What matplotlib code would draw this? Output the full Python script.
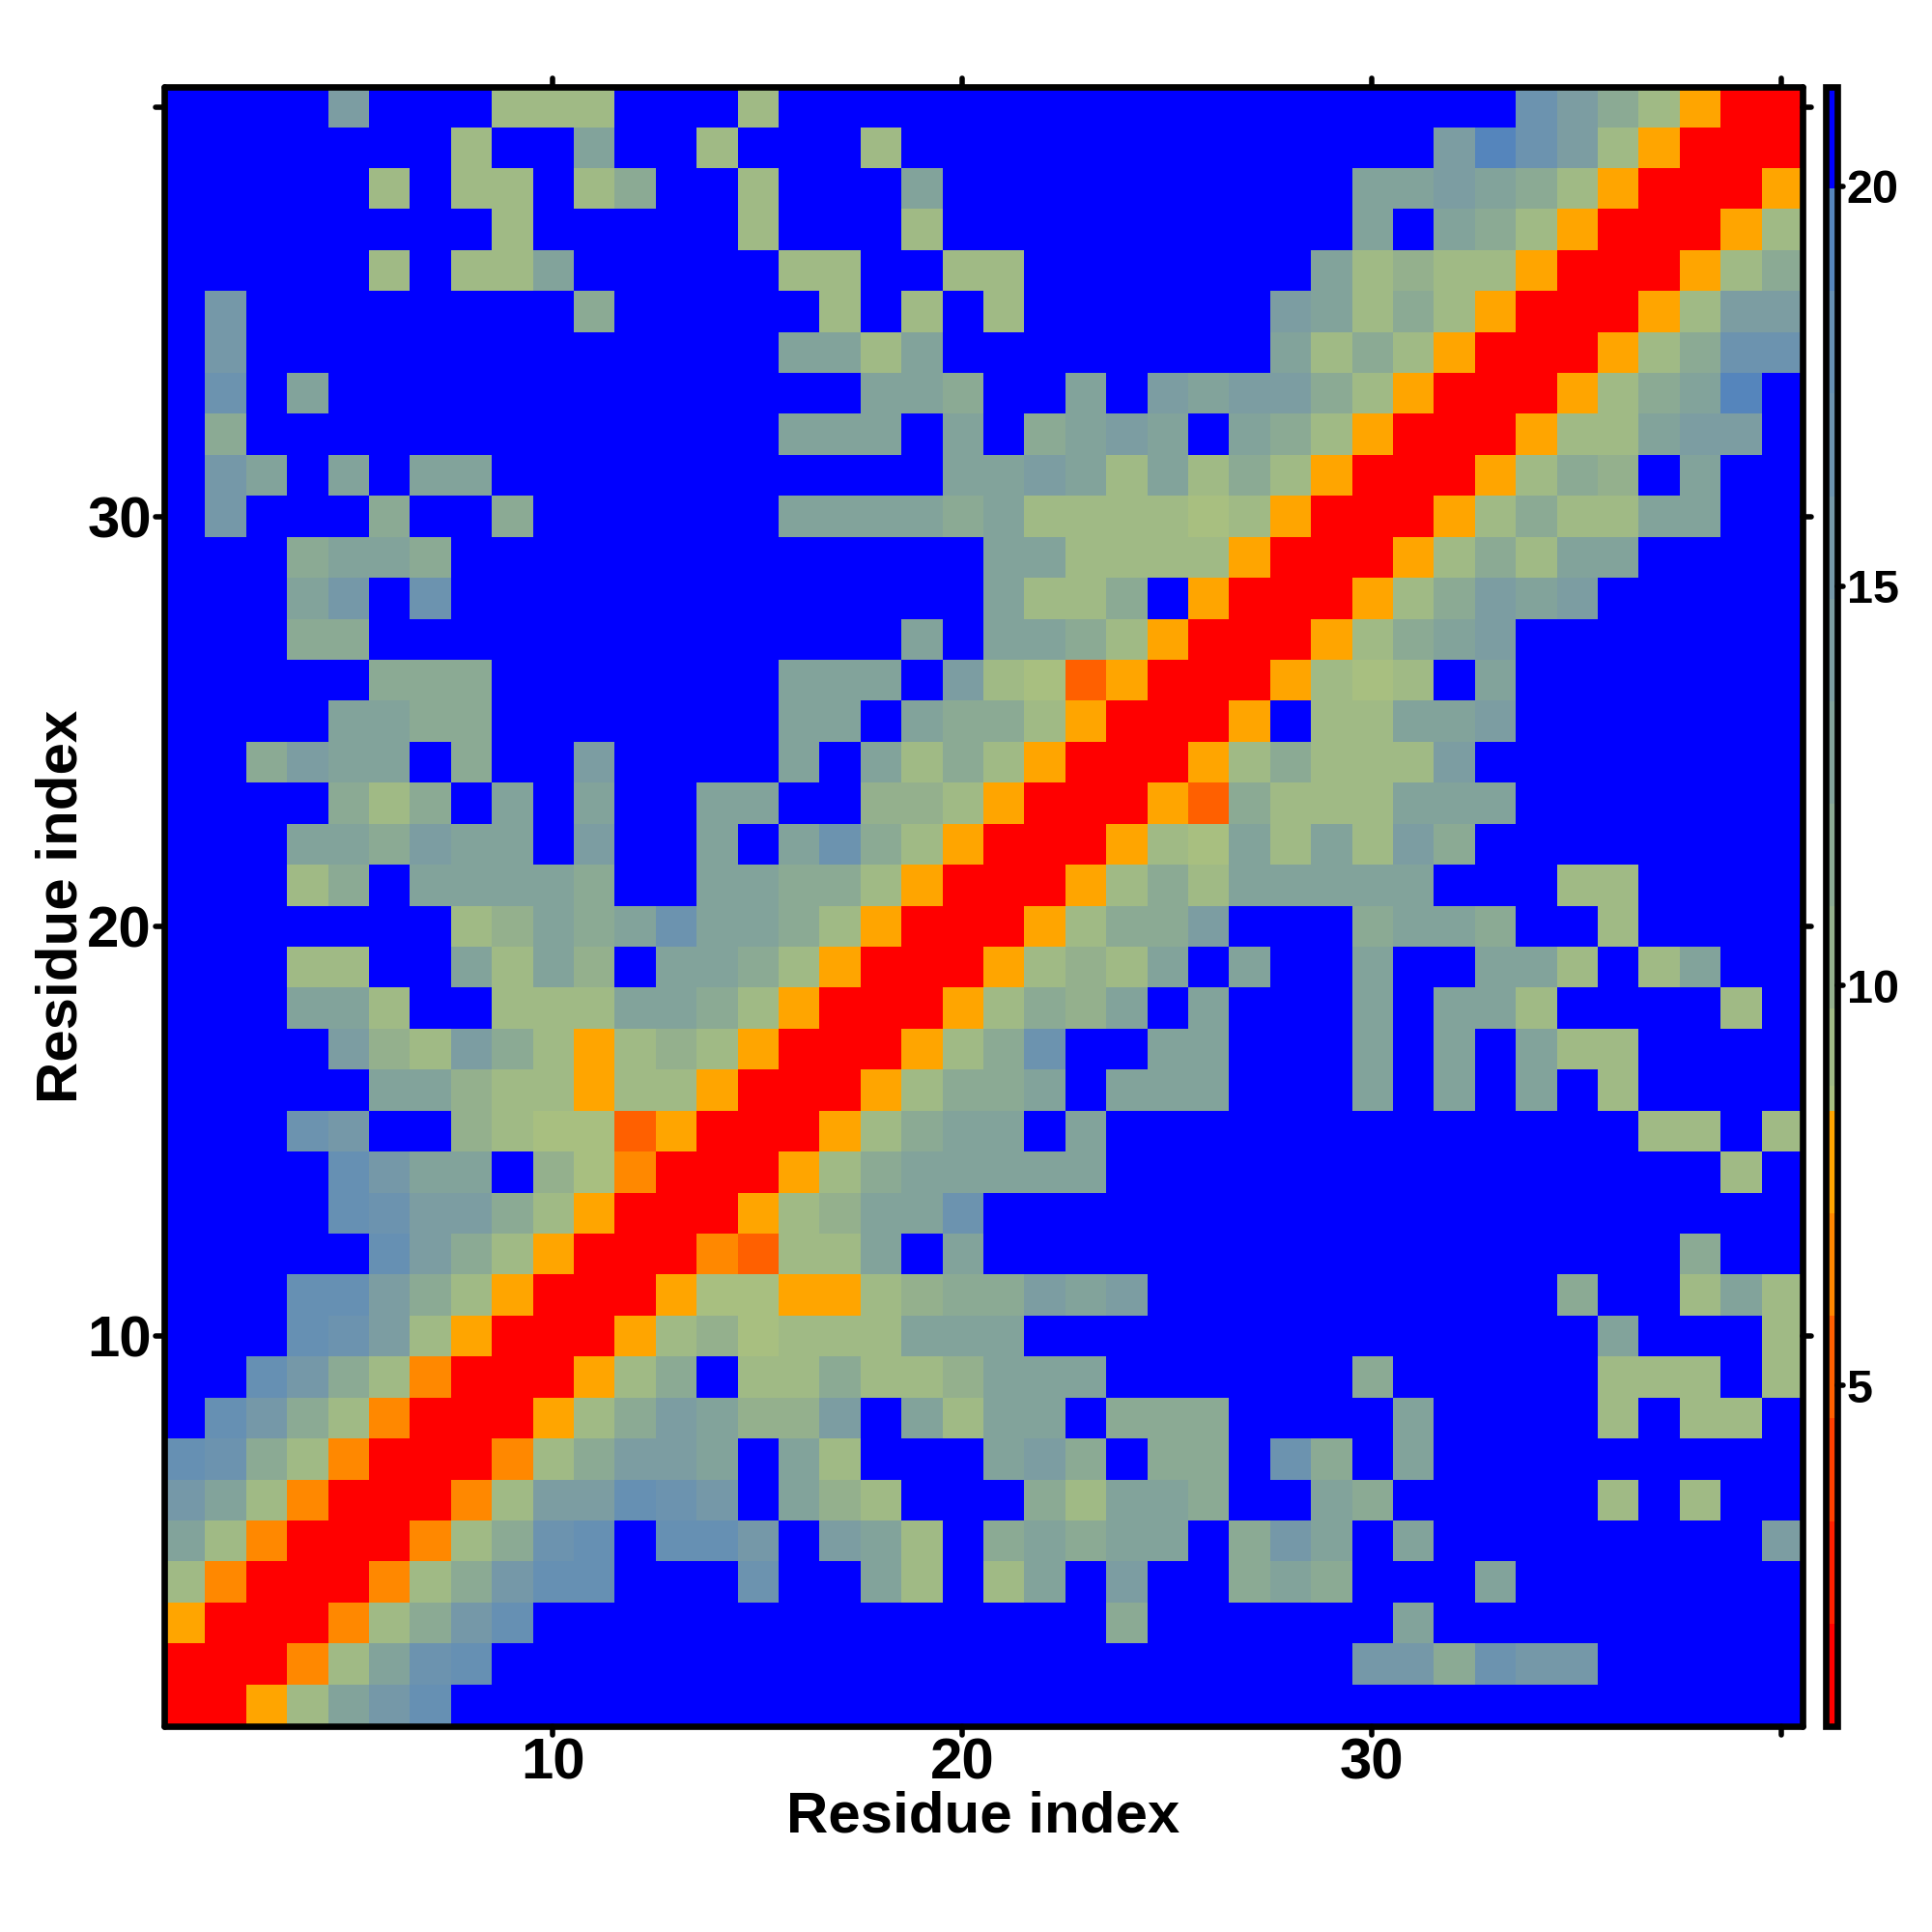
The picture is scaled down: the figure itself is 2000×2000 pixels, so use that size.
import numpy as np
import matplotlib
matplotlib.use('Agg')
import matplotlib.pyplot as plt
from matplotlib.colors import ListedColormap, BoundaryNorm
from matplotlib.markers import MarkerStyle, TICKLEFT, TICKRIGHT, TICKUP, TICKDOWN

plt.rcParams['font.family'] = ['Liberation Sans', 'DejaVu Sans']
plt.rcParams['font.weight'] = 'bold'

# lower half of the map, one string per residue (row 1 first), code = colour band
rows = [
    "R",
    "RR",
    "ARR",
    "1BRR",
    "41BRR",
    "641BRR",
    "8731BRR",
    "Z8631BRR",
    "ZZ8631BRR",
    "ZZZ8751ARR",
    "ZZZ88531ARR",
    "ZZZZZ8531ARR",
    "ZZZZ875531ARR",
    "ZZZZ8644Z20BRR",
    "ZZZ76ZZ2100CARR",
    "ZZZZZ44211A11ARR",
    "ZZZZ521531A121ARR",
    "ZZZ441ZZ1114431ARR",
    "ZZZ11ZZ4142Z4431ARR",
    "ZZZZZZZ1243474431ARR",
    "ZZZ13Z44443ZZ44331ARR",
    "ZZZ443544Z5ZZ4Z4731ARR",
    "ZZZZ313Z4Z4ZZ44ZZ221ARR",
    "ZZ3544Z3ZZ5ZZZZ4Z4131ARR",
    "ZZZZ4433ZZZZZZZ44Z4331ARR",
    "ZZZZZ333ZZZZZZZ444Z510CARR",
    "ZZZ33ZZZZZZZZZZZZZ4Z4431ARR",
    "ZZZ46Z7ZZZZZZZZZZZZZ4113ZARR",
    "ZZZ3443ZZZZZZZZZZZZZ441111ARR",
    "Z6ZZZ3ZZ3ZZZZZZ444434111101ARR",
    "Z64Z4Z44ZZZZZZZZZZZ445414131ARR",
    "Z3ZZZZZZZZZZZZZ444Z4Z3454Z431ARR",
    "Z7Z4ZZZZZZZZZZZZZ443ZZ4Z545531ARR",
    "Z6ZZZZZZZZZZZZZ4414ZZZZZZZZ4131ARR",
    "Z6ZZZZZZZZ3ZZZZZ1Z1Z1ZZZZZZ54131ARR",
    "ZZZZZ1Z114ZZZZZ11ZZ11ZZZZZZZ41211ARR",
    "ZZZZZZZZ1ZZZZZ1ZZZ1ZZZZZZZZZZ4Z431ARR",
    "ZZZZZ1Z11Z13ZZ1ZZZ4ZZZZZZZZZZ445431ARR",
    "ZZZZZZZ1ZZ4ZZ1ZZZ1ZZZZZZZZZZZZZ59751ARR",
    "ZZZZ5ZZZ111ZZZ1ZZZZZZZZZZZZZZZZZZ7531ARR",
]

# value for each band
band_value = {
    'R': 1.4, 'C': 5.3, 'B': 6.5, 'A': 7.8, '0': 8.6, '1': 9.5, '2': 10.6,
    '3': 11.9, '4': 13.2, '5': 14.5, '6': 15.8, '7': 17.0, '8': 18.3,
    '9': 19.4, 'Z': 20.6,
}

band_edges = [0.74, 2.02, 3.30, 4.59, 5.87, 7.15, 8.43, 8.75, 9.71, 10.99,
              12.28, 13.56, 14.84, 16.12, 17.41, 18.69, 19.97, 21.25]
band_colors = ['#ff0000', '#ff2000', '#ff4000', '#ff6000', '#ff8800', '#ffa500',
               '#a8bf80', '#a0ba85', '#94b08d', '#8baa94', '#82a39b', '#7c9da2',
               '#7598a8', '#6c93af', '#6690b3', '#5585bc', '#0000ff']

x_ticks = [10, 20, 30, 40]
x_labels = ['10', '20', '30', '']
cbar_ticks = [5, 10, 15, 20]

n = len(rows)
dist = np.zeros((n, n))
for i, row in enumerate(rows):
    for j, code in enumerate(row):
        dist[i, j] = band_value[code]
        dist[j, i] = band_value[code]

cmap = ListedColormap(band_colors)
norm = BoundaryNorm(band_edges, cmap.N)

fig = plt.figure(figsize=(10, 10), dpi=200)
L, B, S = 169.5 / 2000, (2000 - 1786.5) / 2000, 1697 / 2000
ax = fig.add_axes([L, B, 1696 / 2000, S])
im = ax.imshow(dist, origin='lower', extent=(0.5, n + 0.5, 0.5, n + 0.5),
               cmap=cmap, norm=norm, aspect='auto', interpolation='nearest')

ax.set_xticks(x_ticks)
ax.set_xticklabels(x_labels)
ax.set_yticks(x_ticks)
ax.set_yticklabels(x_labels)
ax.tick_params(axis='both', which='major', top=True, right=True, length=3.2, width=2,
               labelsize=21.6)
ax.tick_params(axis='x', pad=1.2)
ax.tick_params(axis='y', pad=1.3)
for t in ax.xaxis.get_major_ticks():
    t.tick1line.set_marker(MarkerStyle(TICKDOWN, capstyle='round'))
    t.tick2line.set_marker(MarkerStyle(TICKUP, capstyle='round'))
for t in ax.yaxis.get_major_ticks():
    t.tick1line.set_marker(MarkerStyle(TICKLEFT, capstyle='round'))
    t.tick2line.set_marker(MarkerStyle(TICKRIGHT, capstyle='round'))
for s in ax.spines.values():
    s.set_linewidth(2.4)
    s.set_capstyle('round')

ax.set_xlabel('Residue index', fontsize=21.6, fontweight='bold')
ax.set_ylabel('Residue index', fontsize=21.6, fontweight='bold')
ax.xaxis.set_label_coords(0.5, -(1881 - 1786.5) / 1697)
ax.yaxis.set_label_coords(-(169.5 - 64) / 1696, 0.5)
ax.xaxis.label.set_va('center')
ax.yaxis.label.set_va('center')

cax = fig.add_axes([1889.5 / 2000, B, 12 / 2000, S])
cb = fig.colorbar(im, cax=cax, ticks=cbar_ticks, spacing='proportional')
cb.outline.set_linewidth(2.4)
cb.ax.tick_params(length=2.2, width=2, labelsize=17.5, pad=1.5)
for t in cb.ax.yaxis.get_major_ticks():
    t.tick2line.set_marker(MarkerStyle(TICKRIGHT, capstyle='round'))
cb.ax.minorticks_off()

fig.savefig('out.png', dpi=200)
